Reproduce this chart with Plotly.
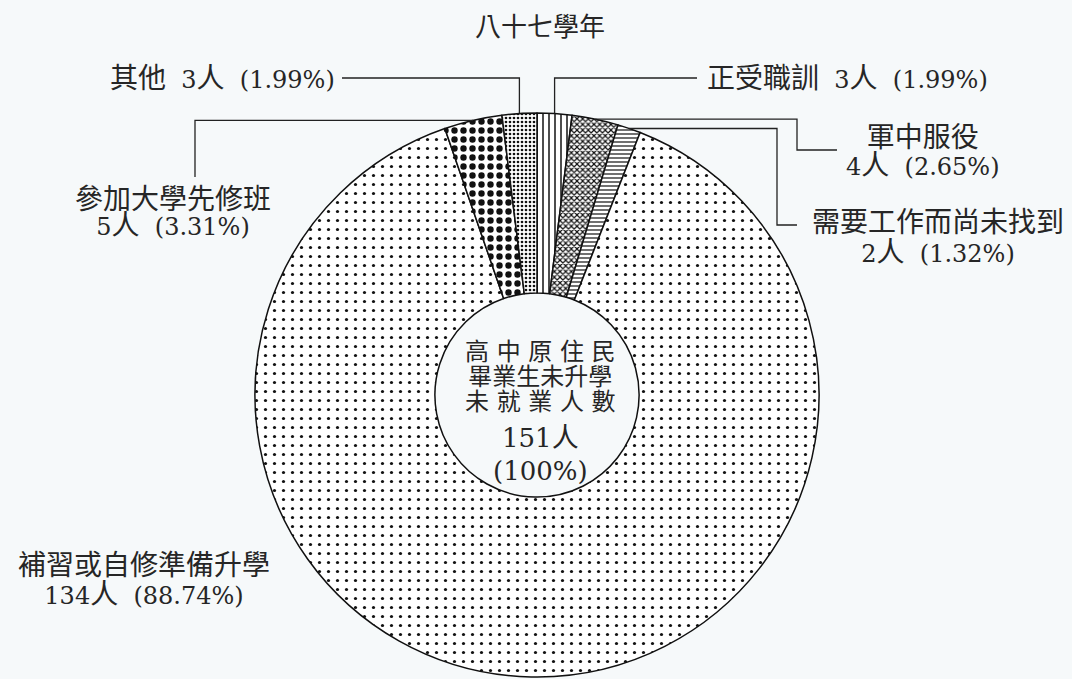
import math
import re

import plotly.graph_objects as go

# %% Data ----------------------------------------------------------------------

labels = ["正受職訓", "軍中服役", "需要工作而尚未找到", "補習或自修準備升學", "參加大學先修班", "其他"]
counts = [3, 4, 2, 134, 5, 3]
percents = ["1.99%", "2.65%", "1.32%", "88.74%", "3.31%", "1.99%"]
total = 151
title = "八十七學年"
center_lines = ["高 中 原 住 民", "畢業生未升學", "未 就 業 人 數", "151人", "(100%)"]

# %% Layout helpers ------------------------------------------------------------

W, H = 1072, 679
cx, cy, R = 537, 395, 282  # pie centre / radius in pixels
ink = "#262626"
font = "DejaVu Serif, Noto Sans CJK TC, serif"
bg = "#f6f9fa"


def paper(x, y):
    return x / W, 1 - y / H


# mid angle of each slice (clockwise from 12 o'clock)
mids = []
acc = 0
for c in counts:
    mids.append((acc + c / 2) / sum(counts) * 2 * math.pi)
    acc += c


def edge(i):
    a = mids[i]
    return cx + R * math.sin(a), cy - R * math.cos(a)


shapes_ = ["|", "x", "-", ".", ".", "."]
sizes_ = [6, 4, 4, 9, 9, 4]
solid_ = [0.25, 0.5, 0.3, 0.1, 0.4, 0.35]

x0, x1 = paper(cx - R, 0)[0], paper(cx + R, 0)[0]
y0, y1 = paper(0, cy + R)[1], paper(0, cy - R)[1]

fig = go.Figure(
    go.Pie(
        labels=labels,
        values=counts,
        sort=False,
        direction="clockwise",
        rotation=0,
        hole=0.362,
        textinfo="none",
        showlegend=False,
        hoverinfo="skip",
        domain=dict(x=[x0, x1], y=[y0, y1]),
        marker=dict(
            colors=["white"] * len(labels),
            line=dict(color="#111", width=1.5),
            pattern=dict(
                shape=shapes_,
                size=sizes_,
                solidity=solid_,
                fgcolor="#111",
                bgcolor="white",
                fillmode="replace",
            ),
        ),
    )
)

# -- leader lines (elbows in pixels, start point from the slice angle)
paths = {
    0: [(None, 78), (697, 78)],
    1: [(None, None), (797, None), (797, 150), (837, 150)],
    2: [(None, None), (777, None), (777, 225), (797, 225)],
    4: [(None, None), (195, None), (195, 177)],
    5: [(None, 78), (342, 78)],
}
for i, pts in paths.items():
    ex, ey = edge(i)
    full = [(ex, ey)]
    for px_, py_ in pts:
        full.append((ex if px_ is None else px_, ey if py_ is None else py_))
    d = ""
    for k, (px_, py_) in enumerate(full):
        u, v = paper(px_, py_)
        d += ("M" if k == 0 else " L") + f" {u:.5f},{v:.5f}"
    fig.add_shape(type="path", path=d, xref="paper", yref="paper",
                  line=dict(color="#222", width=1.3))


def mix(line, big=28, small=24):
    # latin runs a little smaller than the CJK glyphs
    parts = re.findall(r"[\x20-\x7e]+|[^\x20-\x7e]+", line)
    out = ""
    for p in parts:
        sz = small if re.match(r"[\x20-\x7e]", p) else big
        out += f"<span style='font-size:{sz}px'>{p}</span>"
    return out


def note(lines, x, y, anchor="center", base=28, big=28, small=24):
    # base sets the line pitch (1.3 x base), big / small the glyph sizes
    u, v = paper(x, y)
    text = "<br>".join(mix(s, big, small) for s in lines)
    fig.add_annotation(text=text, x=u, y=v, xref="paper", yref="paper",
                       xanchor=anchor, yanchor="middle", showarrow=False,
                       borderpad=0, font=dict(family=font, size=base, color=ink))


def lab(i):
    return f"{counts[i]}人  ({percents[i]})"


note([title], 540, 27, base=26, big=26)
note([f"{labels[5]}  {lab(5)}"], 336, 78, "right")
note([f"{labels[0]}  {lab(0)}"], 706, 78, "left")
note([labels[1], lab(1)], 923, 151, base=21.5)
note([labels[2], lab(2)], 938, 237, base=23)
note([labels[4], lab(4)], 173, 212, base=20)
note([labels[3], lab(3)], 144, 580, base=22)

note(center_lines[:3], cx + 3, 377, base=19.2, big=24)
note(center_lines[3:], cx + 3, 454, base=25.4, big=27, small=26)

fig.update_layout(
    width=W,
    height=H,
    margin=dict(l=0, r=0, t=0, b=0),
    paper_bgcolor=bg,
    plot_bgcolor=bg,
)

fig.write_html("out.html", config={"displayModeBar": False},
               post_script="document.body.style.margin='0';")
